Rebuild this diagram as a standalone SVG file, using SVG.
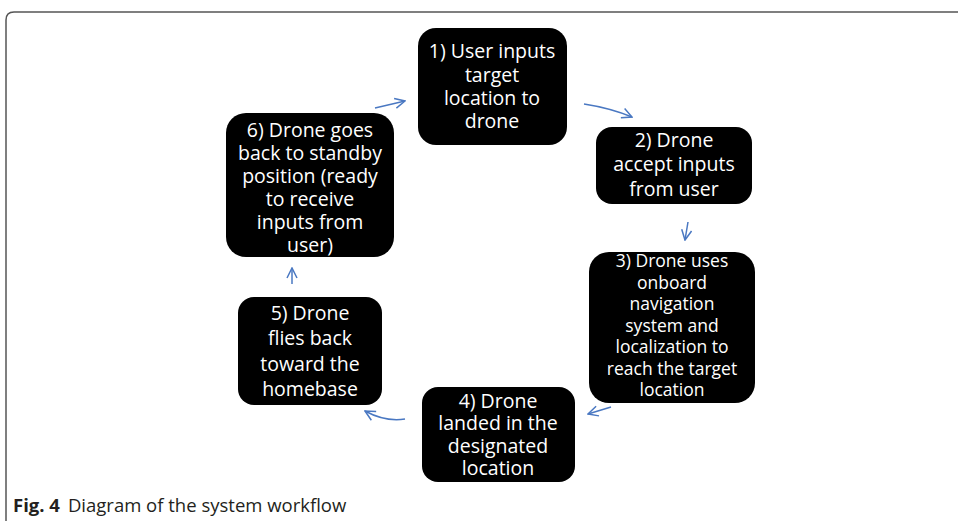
<svg xmlns="http://www.w3.org/2000/svg" width="958" height="521" viewBox="0 0 958 521">
  <style>
    .box { fill: #000; }
    .lbl { font-family: "Open Sans", "Noto Sans", sans-serif; fill: #fff; text-anchor: middle; font-size: 19.5px; }
    .lbl3 { font-size: 17.5px; }
    .conn { fill: none; stroke: #4a78c2; stroke-width: 1.5; marker-end: url(#chev); }
    .cap { font-family: "Open Sans", "Noto Sans", sans-serif; font-size: 18.5px; fill: #231f20; }
  </style>
  <defs>
    <marker id="chev" viewBox="0 0 12 12" refX="11" refY="6" markerWidth="12" markerHeight="12" markerUnits="userSpaceOnUse" orient="auto">
      <path d="M1,1 L11,6 L1,11" fill="none" stroke="#4a78c2" stroke-width="1.5"/>
    </marker>
  </defs>
  <rect width="958" height="521" fill="#fff"/>
  <!-- figure frame: open on the right and bottom -->
  <path d="M6,521 V20 Q6,12 14,12 H958" fill="none" stroke="#555" stroke-width="1.5"/>

  <g id="n1">
    <rect class="box" x="418" y="28" width="149" height="117" rx="18"/>
    <text class="lbl"><tspan x="492" y="58">1) User inputs</tspan><tspan x="492" y="82">target</tspan><tspan x="492" y="105">location to</tspan><tspan x="492" y="128">drone</tspan></text>
  </g>
  <g id="n2">
    <rect class="box" x="596" y="127" width="156" height="77" rx="16"/>
    <text class="lbl"><tspan x="674" y="147">2) Drone</tspan><tspan x="674" y="171">accept inputs</tspan><tspan x="674" y="196">from user</tspan></text>
  </g>
  <g id="n3">
    <rect class="box" x="589" y="252" width="166" height="151" rx="20"/>
    <text class="lbl lbl3"><tspan x="672" y="267">3) Drone uses</tspan><tspan x="672" y="288.5">onboard</tspan><tspan x="672" y="310">navigation</tspan><tspan x="672" y="331.5">system and</tspan><tspan x="672" y="353">localization to</tspan><tspan x="672" y="374.5">reach the target</tspan><tspan x="672" y="396">location</tspan></text>
  </g>
  <g id="n4">
    <rect class="box" x="422" y="387" width="153" height="95" rx="16"/>
    <text class="lbl"><tspan x="498" y="408">4) Drone</tspan><tspan x="498" y="430">landed in the</tspan><tspan x="498" y="453">designated</tspan><tspan x="498" y="475">location</tspan></text>
  </g>
  <g id="n5">
    <rect class="box" x="238" y="297" width="144" height="108" rx="16"/>
    <text class="lbl"><tspan x="310" y="320">5) Drone</tspan><tspan x="310" y="345">flies back</tspan><tspan x="310" y="371">toward the</tspan><tspan x="310" y="396">homebase</tspan></text>
  </g>
  <g id="n6">
    <rect class="box" x="226" y="113" width="168" height="144" rx="20"/>
    <text class="lbl"><tspan x="310" y="137">6) Drone goes</tspan><tspan x="310" y="160">back to standby</tspan><tspan x="310" y="183">position (ready</tspan><tspan x="310" y="206">to receive</tspan><tspan x="310" y="229">inputs from</tspan><tspan x="310" y="252">user)</tspan></text>
  </g>

  <g id="connectors">
    <path class="conn" d="M375,108 L405,101"/>
    <path class="conn" d="M584,104 Q610,108 632,117"/>
    <path class="conn" d="M688,222 L685,240"/>
    <path class="conn" d="M611,407 L588,414"/>
    <path class="conn" d="M405,419 Q385,422 365,411"/>
    <path class="conn" d="M292,284 L292,268"/>
  </g>

  <text class="cap" x="13" y="512"><tspan font-weight="bold">Fig. 4</tspan><tspan dx="8">Diagram of the system workflow</tspan></text>
</svg>
